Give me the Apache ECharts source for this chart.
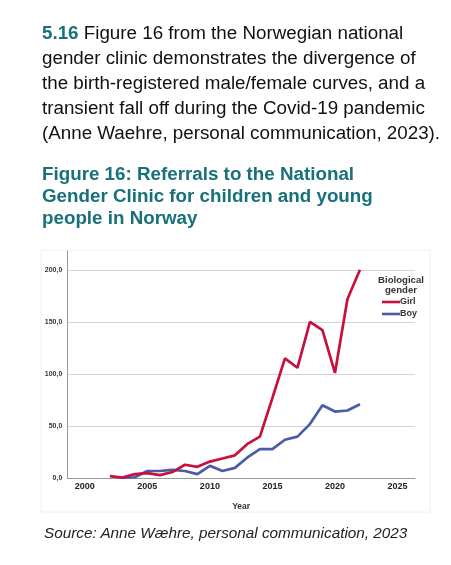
<!DOCTYPE html>
<html>
<head>
<meta charset="utf-8">
<script src="https://cdn.jsdelivr.net/npm/echarts@6/dist/echarts.min.js"></script>
<style>
  html, body { margin: 0; padding: 0; background: #fff; width: 451px; height: 565px; overflow: hidden; }
  #chart { position: absolute; left: 0; top: 0; width: 451px; height: 565px; }
  .txt { position: absolute; z-index: 2; font-family: "Liberation Sans", Arial, sans-serif; white-space: nowrap; }
  #para { left: 42px; top: 19.5px; font-size: 18.8px; line-height: 25px; color: #111; }
  #para b { color: #17707a; }
  #head { left: 42px; top: 163px; font-size: 18.8px; line-height: 22px; color: #17707a; font-weight: bold; }
  #src { left: 44px; top: 522.5px; font-size: 15.3px; line-height: 20px; color: #222; font-style: italic; }
</style>
</head>
<body>
<div id="chart"></div>
<div class="txt" id="para"><b>5.16</b> Figure 16 from the Norwegian national<br>gender clinic demonstrates the divergence of<br>the birth-registered male/female curves, and a<br>transient fall off during the Covid-19 pandemic<br>(Anne Waehre, personal communication, 2023).</div>
<div class="txt" id="head">Figure 16: Referrals to the National<br>Gender Clinic for children and young<br>people in Norway</div>
<div class="txt" id="src">Source: Anne Wæhre, personal communication, 2023</div>
<script>
const years = [2002, 2003, 2004, 2005, 2006, 2007, 2008, 2009, 2010, 2011, 2012, 2013, 2014, 2015, 2016, 2017, 2018, 2019, 2020, 2021, 2022];
const girl = [2, 0.7, 4, 5, 3, 6, 13, 11, 16, 19, 22, 33, 40, 77, 115, 106, 150, 142, 101, 172, 200];
const boy = [null, 0.5, 1, 7, 7, 8, 7, 4, 12, 7, 10, 20, 28, 28, 37, 40, 52, 70, 64, 65, 71];
const xTicks = [2000, 2005, 2010, 2015, 2020, 2025];
const yTicks = [0, 50, 100, 150, 200];
const seriesNames = ['Girl', 'Boy'];
const legendTitle = 'Biological\ngender';
const xName = 'Year';

const pair = (vals) => years.map((y, i) => [y, vals[i]]);

const chart = echarts.init(document.getElementById('chart'), null, { renderer: 'canvas' });
const font = '"Liberation Sans", Arial, sans-serif';
chart.setOption({
  animation: false,
  grid: { left: 67.3, right: 36, top: 251, bottom: 86.7, containLabel: false },
  graphic: [
    { type: 'rect', shape: { x: 41, y: 250, width: 389, height: 262 }, style: { fill: 'none', stroke: '#eef0f6', lineWidth: 1 }, z: 0 },
    { type: 'text', x: 401, y: 276, style: { text: legendTitle, font: 'bold 9.6px ' + font, fill: '#333', align: 'center', verticalAlign: 'top', lineHeight: 9.5 }, z: 5 }
  ],
  legend: {
    data: seriesNames,
    orient: 'vertical',
    left: 382,
    top: 297.5,
    icon: 'rect',
    itemWidth: 18,
    itemHeight: 2.6,
    itemGap: 3,
    textStyle: { fontFamily: font, fontWeight: 'bold', fontSize: 9, color: '#333', padding: [0, 0, 0, -5] },
    padding: 0
  },
  xAxis: {
    type: 'value',
    min: 1998.6,
    max: 2026.4,
    name: xName,
    nameLocation: 'middle',
    nameGap: 24,
    nameTextStyle: { fontFamily: font, fontWeight: 'bold', fontSize: 8.5, color: '#333' },
    axisLine: { lineStyle: { color: '#999', width: 1 } },
    axisTick: { show: false },
    splitLine: { show: false },
    axisLabel: {
      customValues: xTicks,
      formatter: (v) => String(v),
      fontFamily: font, fontWeight: 'bold', fontSize: 9, color: '#222', margin: 4
    }
  },
  yAxis: {
    type: 'value',
    min: 0,
    max: 218,
    axisLine: { show: true, lineStyle: { color: '#999', width: 1 } },
    axisTick: { show: false, customValues: yTicks },
    splitLine: { show: true, lineStyle: { color: '#d4d4d4', width: 1 } },
    axisLabel: {
      customValues: yTicks,
      formatter: (v) => v.toFixed(1).replace('.', ','),
      fontFamily: font, fontWeight: 'bold', fontSize: 7, color: '#333', margin: 5
    }
  },
  series: [
    { name: seriesNames[0], type: 'line', data: pair(girl), showSymbol: false, symbol: 'none', lineStyle: { color: '#c8103c', width: 2.7 }, itemStyle: { color: '#c8103c' }, connectNulls: false, z: 3 },
    { name: seriesNames[1], type: 'line', data: pair(boy), showSymbol: false, symbol: 'none', lineStyle: { color: '#4a5ca8', width: 2.7 }, itemStyle: { color: '#4a5ca8' }, connectNulls: false, z: 2 }
  ]
});
</script>
</body>
</html>
